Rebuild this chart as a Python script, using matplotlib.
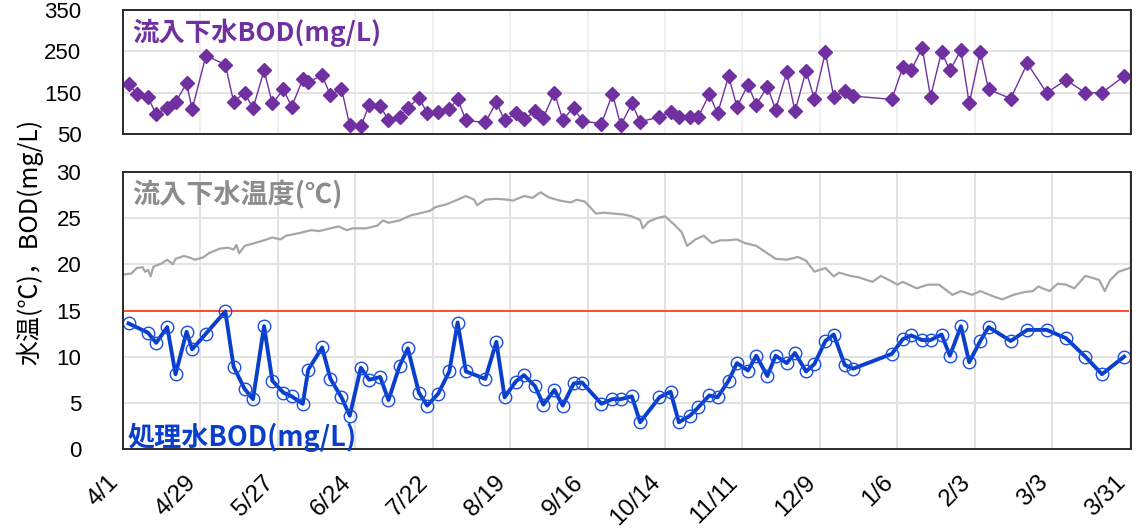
import matplotlib
matplotlib.use('Agg')
import matplotlib.pyplot as plt

plt.rcParams['font.family'] = ['Liberation Sans', 'Noto Sans CJK JP', 'DejaVu Sans']
jp = ['Noto Sans CJK JP', 'DejaVu Sans']

# x axis: days since 4/1, ticks every 28 days
tick_days = [0, 28, 56, 84, 112, 140, 168, 196, 224, 252, 280, 308, 336, 364]
tick_labels = ['4/1', '4/29', '5/27', '6/24', '7/22', '8/19', '9/16',
               '10/14', '11/11', '12/9', '1/6', '2/3', '3/3', '3/31']

# influent BOD (mg/L)
inf_days = [2, 5, 9, 12, 16, 19, 23, 25, 30, 37, 40, 44, 47, 51, 54, 58, 61, 65, 67, 72,
            75, 79, 82, 86, 89, 93, 96, 100, 103, 107, 110, 114, 118, 121, 124, 131, 135, 138, 142, 145,
            149, 152, 156, 159, 163, 166, 173, 177, 180, 184, 187, 194, 198, 201, 205, 208, 212, 215, 219, 222,
            226, 229, 233, 236, 240, 243, 247, 250, 254, 257, 261, 264, 278, 282, 285, 289, 292, 296, 299, 303,
            306, 310, 313, 321, 327, 334, 341, 348, 354, 362]
inf_bod = [171, 148, 139, 98, 114, 127, 173, 110, 240, 218, 128, 150, 112, 204, 124, 158, 116, 183, 176, 192,
           144, 160, 71, 69, 120, 118, 83, 91, 114, 138, 101, 104, 110, 135, 83, 78, 127, 83, 100, 86,
           105, 90, 150, 85, 114, 82, 75, 147, 71, 124, 80, 91, 104, 91, 91, 91, 146, 100, 190, 116,
           169, 121, 165, 109, 199, 105, 203, 135, 248, 140, 154, 142, 134, 212, 204, 259, 140, 249, 204, 253,
           124, 249, 158, 136, 221, 150, 181, 150, 150, 190]

# treated water BOD (mg/L)
eff_days = [2, 9, 12, 16, 19, 23, 25, 30, 37, 40, 44, 47, 51, 54, 58, 61, 65, 67, 72, 75,
            79, 82, 86, 89, 93, 96, 100, 103, 107, 110, 114, 118, 121, 124, 131, 135, 138, 142, 145, 149,
            152, 156, 159, 163, 166, 173, 177, 180, 184, 187, 194, 198, 201, 205, 208, 212, 215, 219, 222,
            226, 229, 233, 236, 240, 243, 247, 250, 254, 257, 261, 264, 278, 282, 285, 289, 292, 296, 299, 303,
            306, 310, 313, 321, 327, 334, 341, 348, 354, 362]
eff_bod = [13.6, 12.6, 11.5, 13.2, 8.1, 12.7, 10.8, 12.5, 14.9, 8.9,
           6.5, 5.4, 13.3, 7.4, 6.1, 5.7, 4.9, 8.6, 11.0, 7.6,
           5.6, 3.6, 8.8, 7.5, 7.8, 5.3, 9.0, 10.9, 6.1, 4.7,
           6.0, 8.4, 13.7, 8.4, 7.6, 11.6, 5.6, 7.3, 8.0, 6.8,
           4.8, 6.4, 4.7, 7.1, 7.2, 4.9, 5.4, 5.4, 5.7,
           2.9, 5.6, 6.2, 2.9, 3.6, 4.5, 5.8, 5.6, 7.4, 9.3,
           8.5, 10.1, 7.9, 10.1, 9.3, 10.4, 8.4, 9.2, 11.7, 12.4,
           9.1, 8.7, 10.3, 11.9, 12.3, 11.8, 11.8, 12.4, 10.1, 13.3,
           9.4, 11.7, 13.2, 11.7, 12.9, 12.9, 12.0, 10.0, 8.1, 10.0]

# influent temperature (deg C)
temp_days = [0, 3, 5, 7, 8, 9, 10, 11, 14, 16, 18, 19, 22, 24, 26, 29, 31, 35, 38, 40,
             41, 42, 44, 47, 51, 54, 57, 59, 64, 68, 71, 75, 78, 81, 83, 88, 92, 94, 96, 100,
             104, 107, 111, 113, 117, 121, 124, 127, 128, 131, 135, 139, 141, 145, 148, 151, 154, 158, 162, 164,
             167, 171, 174, 177, 181, 184, 187, 188, 190, 193, 196, 199, 202, 204, 207, 210, 213, 216, 219, 222,
             225, 229, 233, 236, 240, 244, 247, 250, 254, 257, 259, 263, 266, 271, 274, 277, 280, 282, 287, 291,
             295, 300, 303, 307, 310, 315, 318, 322, 326, 329, 331, 335, 338, 341, 344, 348, 351, 353, 355, 357,
             360, 364]
temp_vals = [18.9, 19.0, 19.6, 19.7, 19.2, 19.4, 18.7, 19.75, 20.1, 20.5, 20.0, 20.6, 20.9, 20.75, 20.5, 20.75, 21.2, 21.7, 21.8, 21.6,
             22.1, 21.2, 22.0, 22.25, 22.6, 22.9, 22.7, 23.1, 23.4, 23.7, 23.6, 23.9, 24.1, 23.7, 23.9, 23.9, 24.2, 24.75, 24.5, 24.75,
             25.3, 25.5, 25.8, 26.2, 26.5, 27.0, 27.4, 27.0, 26.4, 27.0, 27.1, 27.0, 26.9, 27.4, 27.2, 27.8, 27.25, 26.9, 26.7, 27.0,
             26.8, 25.5, 25.6, 25.5, 25.4, 25.2, 24.8, 23.9, 24.6, 25.0, 25.2, 24.4, 23.5, 22.0, 22.7, 23.1, 22.3, 22.6, 22.6, 22.7,
             22.3, 22.0, 21.2, 20.6, 20.5, 20.8, 20.4, 19.2, 19.6, 18.7, 19.1, 18.75, 18.6, 18.1, 18.75, 18.3, 17.8, 18.1, 17.4, 17.8,
             17.8, 16.7, 17.1, 16.7, 17.1, 16.5, 16.2, 16.7, 17.0, 17.1, 17.6, 17.1, 17.9, 17.8, 17.4, 18.75, 18.5, 18.3, 17.1, 18.3,
             19.2, 19.6]

bod_limit = 15

fig = plt.figure(figsize=(11.4, 5.32), dpi=100)
ax1 = fig.add_axes([0.1079, 0.748, 0.8842, 0.233])
ax2 = fig.add_axes([0.1079, 0.156, 0.8842, 0.5207])

for ax in (ax1, ax2):
    ax.set_xlim(0, 364.5)
    ax.set_xticks(tick_days)
    ax.grid(True, color='#e3e3e3', lw=1.4)
    ax.set_axisbelow(True)
    ax.tick_params(length=0, labelsize=16)
    ax.tick_params(axis='y', pad=30)
    for s in ax.spines.values():
        s.set_color('#2a2a2a')
        s.set_linewidth(1.4)

# top panel
ax1.plot(inf_days, inf_bod, color='#7030A0', lw=1, marker='D', ms=7.5)
ax1.set_ylim(50, 350)
ax1.set_yticks([50, 150, 250, 350])
ax1.set_xticklabels([])
ax1.grid(True, axis='x', color='#f0f0f0', lw=1.4)
ax1.text(0.009, 0.93, '流入下水BOD(mg/L)', transform=ax1.transAxes, color='#7030A0',
         fontsize=19, fontweight='bold', family=jp, va='top')

# bottom panel
ax2.plot(temp_days, temp_vals, color='#a6a6a6', lw=1.6)
ax2.axhline(bod_limit, xmax=0.997, color='#ff4b2b', lw=1.4)
ax2.plot(eff_days, eff_bod, color='#0a3fcc', lw=2.8, marker='o', ms=9,
         mfc='none', mec='#1a4fe0', mew=1)
ax2.set_ylim(0, 30)
ax2.set_yticks(range(0, 31, 5))
ax2.set_xticklabels(tick_labels)
ax2.tick_params(axis='x', pad=16, labelsize=17.5)
plt.setp(ax2.get_xticklabels(), rotation=45, ha='right')
ax2.text(0.009, 0.975, '流入下水温度(℃)', transform=ax2.transAxes, color='#8c8c8c',
         fontsize=19.5, fontweight='bold', family=jp, va='top')
ax2.text(0.004, -0.01, '処理水BOD(mg/L)', transform=ax2.transAxes, color='#0a3fcc',
         fontsize=19.5, fontweight='bold', family=jp, va='bottom')

fig.text(0.026, 0.545, '水温(℃)，BOD(mg/L)', rotation=90, ha='center', va='center',
         fontsize=18, family=jp)

fig.savefig('out.png', dpi=100)
